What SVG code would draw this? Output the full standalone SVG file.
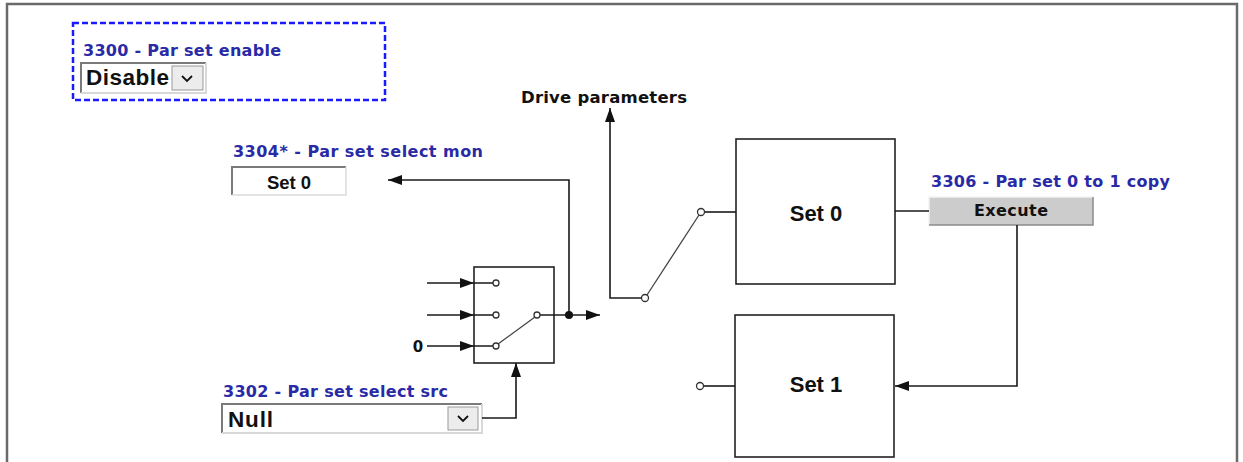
<svg xmlns="http://www.w3.org/2000/svg" width="1243" height="462" viewBox="0 0 1243 462">
<defs>
<marker id="arr" viewBox="0 0 14 10" refX="14" refY="5" markerWidth="14" markerHeight="10" markerUnits="userSpaceOnUse" orient="auto">
<path d="M0,0 L14,5 L0,10 Z" fill="#111"/>
</marker>
</defs>
<style>
.lbl{font-family:"DejaVu Sans",Verdana,sans-serif;font-weight:bold;font-size:16px;fill:#2a2aa6}
.val{font-family:"Liberation Sans",Arial,sans-serif;font-weight:bold;fill:#111}
.dv{font-family:"DejaVu Sans",Verdana,sans-serif;font-weight:bold;fill:#111}
.ln{fill:none;stroke:#1a1a1a;stroke-width:1.6}
.box{fill:#fff;stroke:#222;stroke-width:1.6}
.pin{fill:#fff;stroke:#333;stroke-width:1.3}
.chev{fill:none;stroke:#111;stroke-width:1.8}
</style>
<rect width="1243" height="462" fill="#fff"/>
<path d="M7,462 V4 H1237 V462" fill="none" stroke="#6a6a6a" stroke-width="2.5"/>

<g id="par3300">
<rect x="73" y="23" width="312" height="77" fill="none" stroke="#1a1aff" stroke-width="2.5" stroke-dasharray="6,3"/>
<text class="lbl" x="83" y="56" textLength="198">3300 - Par set enable</text>
<rect x="81" y="63" width="125" height="30" fill="#fff"/>
<path d="M81,93 V63 H206" fill="none" stroke="#7a7a7a" stroke-width="2"/>
<path d="M206,63 V93 H81" fill="none" stroke="#d8d8d8" stroke-width="2"/>
<rect x="172" y="66" width="31" height="24" fill="#ececec" stroke="#9a9a9a" stroke-width="1"/>
<path class="chev" d="M182,76 L187,81 L192,76"/>
<text class="val" x="86" y="85" font-size="22.5" textLength="83">Disable</text>
</g>

<g id="par3304">
<text class="lbl" x="233" y="157" textLength="250">3304* - Par set select mon</text>
<rect x="232" y="167" width="114" height="28" fill="#fff"/>
<path d="M232,195 V167 H346" fill="none" stroke="#7a7a7a" stroke-width="2"/>
<path d="M346,167 V195 H232" fill="none" stroke="#dcdcdc" stroke-width="1.5"/>
<text class="val" x="289" y="189" font-size="18.5" text-anchor="middle">Set 0</text>
</g>

<g id="selector">
<rect class="box" x="474" y="267" width="80" height="96"/>
<text class="dv" x="418" y="352" font-size="15" text-anchor="middle">0</text>
</g>

<g id="par3302">
<text class="lbl" x="223" y="397" textLength="225">3302 - Par set select src</text>
<rect x="222" y="404" width="260" height="29" fill="#fff"/>
<path d="M222,433 V404 H482" fill="none" stroke="#7a7a7a" stroke-width="2"/>
<path d="M482,404 V433 H222" fill="none" stroke="#d8d8d8" stroke-width="2"/>
<rect x="448" y="407" width="30" height="23" fill="#ececec" stroke="#9a9a9a" stroke-width="1"/>
<path class="chev" d="M458,416 L463,421 L468,416"/>
<text class="val" x="228" y="427" font-size="22.5" textLength="45">Null</text>
</g>

<g id="drive">
<text class="dv" x="604" y="103" font-size="16.5" text-anchor="middle" textLength="166">Drive parameters</text>
</g>

<g id="set0">
<rect class="box" x="736" y="139" width="159" height="145"/>
<text class="val" x="816" y="221" font-size="22" text-anchor="middle">Set 0</text>
</g>

<g id="set1">
<rect class="box" x="735" y="315" width="159" height="142"/>
<text class="val" x="816" y="392" font-size="22" text-anchor="middle">Set 1</text>
</g>

<g id="par3306">
<text class="lbl" x="931" y="187" textLength="239">3306 - Par set 0 to 1 copy</text>
<rect x="929" y="197" width="164" height="28" fill="#cccccc"/>
<path d="M929,225 V197 H1093" fill="none" stroke="#f2f2f2" stroke-width="1.5"/>
<path d="M1093,197 V225 H929" fill="none" stroke="#8a8a8a" stroke-width="1.5"/>
<text class="dv" x="1011" y="216" font-size="16" text-anchor="middle" textLength="74">Execute</text>
</g>

<g id="connectors">
<path class="ln" d="M569,315 V180 H388" marker-end="url(#arr)"/>
<path class="ln" d="M427,283 H474" marker-end="url(#arr)"/>
<path class="ln" d="M427,315 H474" marker-end="url(#arr)"/>
<path class="ln" d="M427,346 H474" marker-end="url(#arr)"/>
<path class="ln" d="M474,283 H493 M474,315 H493 M474,346 H493"/>
<path d="M498,344 L535,317" fill="none" stroke="#444" stroke-width="1.3"/>
<path class="ln" d="M540,315 H600" marker-end="url(#arr)"/>
<circle cx="569" cy="315" r="4" fill="#111"/>
<circle class="pin" cx="496" cy="283" r="3"/>
<circle class="pin" cx="496" cy="315" r="3"/>
<circle class="pin" cx="496" cy="346" r="3"/>
<circle class="pin" cx="537" cy="315" r="3"/>
<path class="ln" d="M482,418 H516 V363" marker-end="url(#arr)"/>
<path class="ln" d="M642,298 H610 V108" marker-end="url(#arr)"/>
<path d="M647,295 L699,215" fill="none" stroke="#444" stroke-width="1.3"/>
<path class="ln" d="M704,212 H736"/>
<circle class="pin" cx="645" cy="298" r="3.5"/>
<circle class="pin" cx="701" cy="212" r="3.5"/>
<path class="ln" d="M895,211 H929"/>
<path class="ln" d="M1017,225 V386 H895" marker-end="url(#arr)"/>
<path class="ln" d="M703,386 H735"/>
<circle class="pin" cx="700" cy="386" r="3.5"/>
</g>
</svg>
